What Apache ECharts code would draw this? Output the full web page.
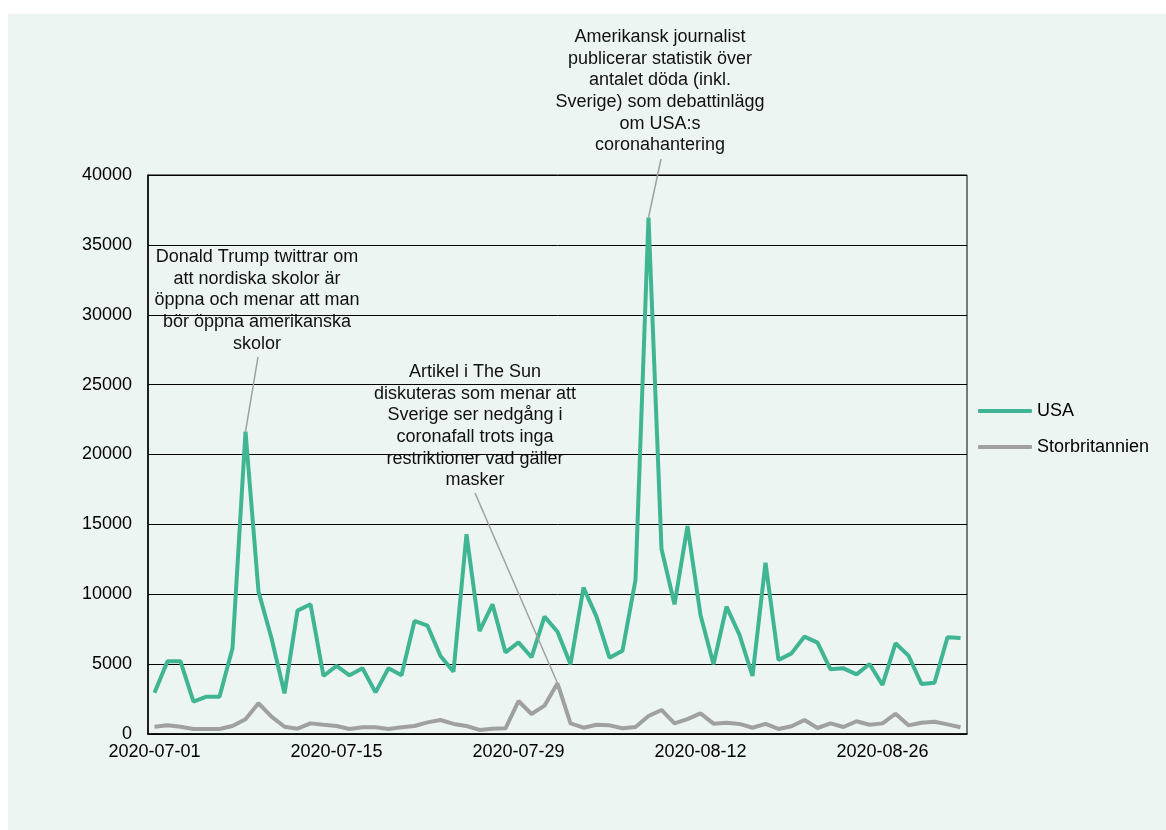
<!DOCTYPE html>
<html>
<head>
<meta charset="utf-8">
<script src="https://cdn.jsdelivr.net/npm/echarts@6/dist/echarts.min.js"></script>
<style>
  html, body { margin: 0; padding: 0; background: #ffffff; }
  #bg { position: absolute; left: 8px; top: 14px; width: 1158px; height: 816px; background: #ECF5F1; }
  #chart { position: absolute; left: 0; top: 0; width: 1166px; height: 830px; }
</style>
</head>
<body>
<div id="bg"></div>
<div id="chart"></div>
<script>
const dates = [
  "2020-07-01","2020-07-02","2020-07-03","2020-07-04","2020-07-05","2020-07-06","2020-07-07","2020-07-08","2020-07-09","2020-07-10",
  "2020-07-11","2020-07-12","2020-07-13","2020-07-14","2020-07-15","2020-07-16","2020-07-17","2020-07-18","2020-07-19","2020-07-20",
  "2020-07-21","2020-07-22","2020-07-23","2020-07-24","2020-07-25","2020-07-26","2020-07-27","2020-07-28","2020-07-29","2020-07-30",
  "2020-07-31","2020-08-01","2020-08-02","2020-08-03","2020-08-04","2020-08-05","2020-08-06","2020-08-07","2020-08-08","2020-08-09",
  "2020-08-10","2020-08-11","2020-08-12","2020-08-13","2020-08-14","2020-08-15","2020-08-16","2020-08-17","2020-08-18","2020-08-19",
  "2020-08-20","2020-08-21","2020-08-22","2020-08-23","2020-08-24","2020-08-25","2020-08-26","2020-08-27","2020-08-28","2020-08-29",
  "2020-08-30","2020-08-31","2020-09-01"
];

const usa = [
  2950, 5200, 5200, 2310, 2670, 2670, 6130, 21640, 10190, 6850,
  2910, 8830, 9280, 4150, 4870, 4200, 4700, 2980, 4700, 4200,
  8090, 7750, 5580, 4460, 14300, 7370, 9280, 5840, 6560, 5490,
  8400, 7320, 4990, 10470, 8400, 5460, 5960, 11020, 36960, 13240,
  9280, 14880, 8520, 4990, 9110, 7090, 4150, 12260, 5300, 5770,
  6970, 6540, 4630, 4700, 4270, 5010, 3510, 6490, 5610, 3580,
  3670, 6920, 6870
];

const uk = [
  520, 620, 520, 360, 360, 360, 570, 1050, 2200, 1240,
  520, 380, 760, 660, 570, 360, 480, 480, 360, 480,
  570, 830, 1000, 720, 570, 290, 380, 410, 2360, 1430,
  2030, 3630, 760, 450, 660, 620, 410, 500, 1290, 1720,
  760, 1060, 1480, 740, 810, 720, 450, 720, 360, 550,
  1000, 430, 760, 500, 910, 660, 760, 1450, 620, 810,
  880, 690, 480
];

const seriesNames = ["USA", "Storbritannien"];
const yTicks = { min: 0, max: 40000, interval: 5000 };

const annotations = [
  { text: "Donald Trump twittrar om\natt nordiska skolor är\nöppna och menar att man\nbör öppna amerikanska\nskolor",
    series: 0, index: 7 },
  { text: "Artikel i The Sun\ndiskuteras som menar att\nSverige ser nedgång i\ncoronafall trots inga\nrestriktioner vad gäller\nmasker",
    series: 1, index: 31 },
  { text: "Amerikansk journalist\npublicerar statistik över\nantalet döda (inkl.\nSverige) som debattinlägg\nom USA:s\ncoronahantering",
    series: 0, index: 38 }
];
// layout of annotation boxes (text centre x, text top y, leader start)
const annLayout = [
  { cx: 257, top: 246, lx: 258, ly: 357 },
  { cx: 475, top: 361, lx: 475, ly: 493 },
  { cx: 660, top: 26, lx: 661, ly: 159 }
];

const FONT = '"Liberation Sans", Arial, sans-serif';
const chart = echarts.init(document.getElementById('chart'));

chart.setOption({
  backgroundColor: 'transparent',
  animation: false,
  textStyle: { fontFamily: FONT },
  grid: {
    left: 148, right: 199, top: 175, bottom: 96,
    show: true, borderColor: '#000', borderWidth: 1, backgroundColor: 'transparent'
  },
  legend: {
    orient: 'vertical',
    left: 973, top: 396,
    icon: 'roundRect',
    itemWidth: 54, itemHeight: 4, itemGap: 16,
    textStyle: { fontSize: 18, color: '#000', fontFamily: FONT, lineHeight: 20 },
    data: seriesNames
  },
  xAxis: {
    type: 'category',
    data: dates,
    boundaryGap: true,
    axisLine: { lineStyle: { color: '#000', width: 1.5 } },
    axisTick: { show: false },
    axisLabel: { interval: 13, fontSize: 18, color: '#000', margin: 9, fontFamily: FONT }
  },
  yAxis: {
    type: 'value',
    min: yTicks.min, max: yTicks.max, interval: yTicks.interval,
    axisLine: { show: true, lineStyle: { color: '#000', width: 1.5 } },
    axisTick: { show: false },
    axisLabel: { fontSize: 18, color: '#000', margin: 16, fontFamily: FONT,
      formatter: v => String(v) },
    splitLine: { lineStyle: { color: '#000', width: 1 } }
  },
  series: [
    { name: seriesNames[0], type: 'line', data: usa, symbol: 'none',
      lineStyle: { color: '#3FB594', width: 4 }, itemStyle: { color: '#3FB594' }, z: 3 },
    { name: seriesNames[1], type: 'line', data: uk, symbol: 'none',
      lineStyle: { color: '#A0A0A0', width: 4 }, itemStyle: { color: '#A0A0A0' }, z: 2 }
  ]
});

const graphics = [];
annotations.forEach((a, i) => {
  const L = annLayout[i];
  const vals = a.series === 0 ? usa : uk;
  const p = chart.convertToPixel({ seriesIndex: a.series }, [a.index, vals[a.index]]);
  graphics.push({
    type: 'line', z: 10,
    shape: { x1: L.lx, y1: L.ly, x2: p[0], y2: p[1] },
    style: { stroke: '#A0A0A0', lineWidth: 1.5 }
  });
  graphics.push({
    type: 'text', z: 10, x: L.cx, y: L.top,
    style: {
      text: a.text, fill: '#111', font: '18px ' + FONT,
      align: 'center', verticalAlign: 'top', lineHeight: 21.7
    }
  });
});
chart.setOption({ graphic: graphics });
</script>
</body>
</html>
